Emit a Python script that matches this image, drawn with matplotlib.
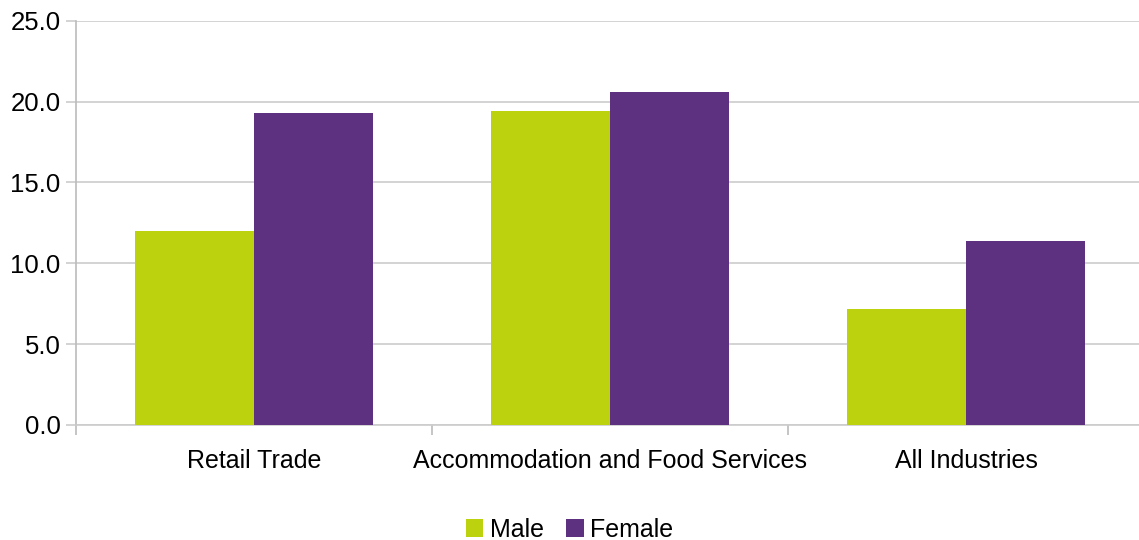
import matplotlib.pyplot as plt
import numpy as np

# data
categories = ["Retail Trade", "Accommodation and Food Services", "All Industries"]
male = [12.0, 19.4, 7.2]
female = [19.3, 20.6, 11.4]

plt.rcParams['font.family'] = ['Liberation Sans', 'DejaVu Sans']

fig = plt.figure(figsize=(11.39, 5.4), dpi=100)
ax = fig.add_axes([76 / 1139, 1 - 425 / 540, 1068 / 1139, (425 - 20.7) / 540])

x = np.arange(len(categories))
w = 1 / 3
ax.bar(x - w / 2, male, w, color="#BDD20F", label="Male", zorder=3)
ax.bar(x + w / 2, female, w, color="#5E3180", label="Female", zorder=3)

ax.set_xlim(-0.5, len(categories) - 0.5)
ax.set_ylim(0, 25)
ax.set_yticks(np.arange(0, 25.1, 5))
ax.set_yticklabels([f"{v:.1f}" for v in np.arange(0, 25.1, 5)])
ax.yaxis.grid(True, color="#cccccc", linewidth=1.2, zorder=0)

# category labels in the middle, tick marks between groups
ax.set_xticks(x)
ax.set_xticklabels(categories)
ax.tick_params(axis="x", which="major", length=0, pad=17, labelsize=18)
ax.set_xticks(np.arange(-0.5, len(categories)), minor=True)
ax.tick_params(axis="x", which="minor", length=7, color="#bbbbbb", width=1.2)
ax.tick_params(axis="y", length=7, color="#cccccc", width=1.2, pad=4, labelsize=18.5)

for s in ["top", "right"]:
    ax.spines[s].set_visible(False)
ax.spines["left"].set_color("#bbbbbb")
ax.spines["bottom"].set_color("#cccccc")
ax.spines["left"].set_linewidth(1.2)
ax.spines["bottom"].set_linewidth(1.2)

fig.legend(loc="lower center", bbox_to_anchor=(0.5, -0.045), ncol=2, frameon=False,
           fontsize=18, handlelength=0.7, handleheight=0.7, handletextpad=0.25,
           columnspacing=0.9)

plt.savefig("out.png", dpi=100)
